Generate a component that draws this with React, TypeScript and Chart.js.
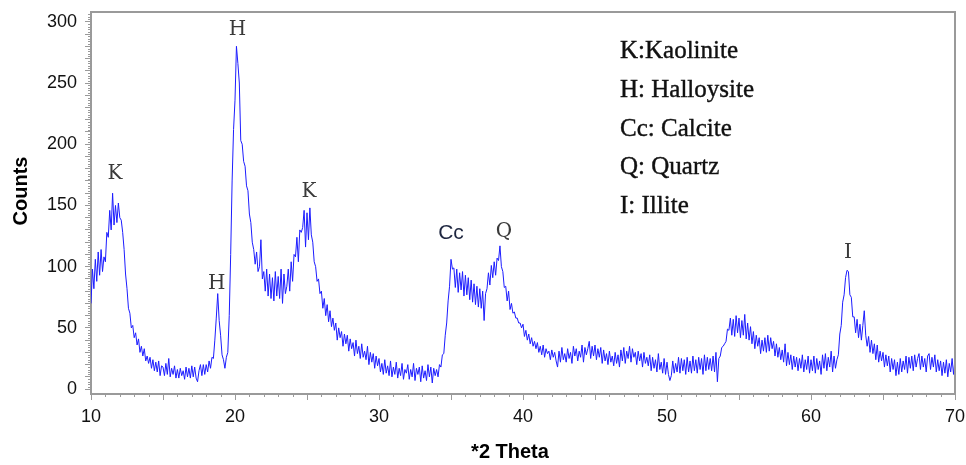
import { useEffect, useRef } from "react";
import { Chart, registerables } from "chart.js";

Chart.register(...registerables);

// ---- data (2-theta from 10 to 70 in steps of 0.1) ----
const thetaStart = 10;
const thetaStep = 0.1;

const counts10to20 = [
  70, 98, 82, 106, 88, 112, 93, 114, 96, 108,
  104, 128, 124, 146, 130, 160, 134, 150, 136, 152,
  140, 138, 128, 114, 94, 82, 66, 62, 50, 52,
  42, 46, 36, 41, 30, 35, 27, 33, 23, 27,
  21, 26, 17, 24, 15, 22, 14, 23, 11, 19,
  18, 11, 21, 12, 25, 10, 17, 12, 19, 9,
  16, 9, 17, 11, 15, 8, 18, 10, 17, 9,
  19, 10, 18, 9, 6, 15, 20, 11, 20, 12,
  20, 14, 23, 17, 26, 25, 40, 58, 78, 56,
  44, 28, 24, 17, 26, 30, 60, 110, 170, 212,
];
const counts20to30 = [
  236, 280, 266, 250, 203, 200, 186, 182, 166, 162,
  143, 136, 120, 114, 102, 112, 96, 100, 122, 90,
  96, 80, 98, 76, 94, 74, 91, 72, 96, 76,
  92, 74, 98, 70, 94, 78, 84, 98, 80, 104,
  88, 110, 108, 124, 104, 130, 128, 132, 146, 116,
  144, 122, 148, 126, 120, 104, 100, 88, 90, 78,
  80, 66, 74, 60, 69, 55, 64, 51, 58, 48,
  54, 40, 50, 42, 47, 35, 45, 37, 44, 31,
  41, 33, 38, 27, 40, 29, 35, 25, 37, 26,
  31, 24, 35, 20, 30, 22, 29, 17, 27, 19,
];
const counts30to40 = [
  25, 14, 21, 12, 24, 13, 19, 11, 23, 10,
  18, 12, 22, 9, 17, 11, 21, 8, 16, 13,
  20, 8, 16, 10, 21, 7, 17, 12, 18, 6,
  19, 9, 15, 7, 20, 10, 18, 5, 17, 11,
  16, 10, 20, 18, 28, 29, 44, 54, 72, 84,
  106, 98, 99, 83, 98, 79, 95, 81, 96, 76,
  93, 77, 91, 73, 89, 71, 86, 69, 84, 67,
  82, 66, 80, 56, 78, 82, 95, 85, 101, 91,
  104, 93, 107, 105, 117, 100, 96, 83, 84, 72,
  80, 65, 70, 62, 63, 58, 58, 54, 54, 50,
];
const counts40to50 = [
  53, 43, 48, 40, 45, 37, 42, 35, 39, 33,
  38, 30, 35, 28, 36, 26, 33, 29, 31, 24,
  32, 26, 30, 23, 18, 31, 22, 34, 24, 29,
  22, 33, 25, 30, 21, 35, 27, 33, 23, 31,
  26, 36, 22, 34, 28, 33, 39, 25, 35, 27,
  36, 24, 33, 26, 34, 21, 32, 23, 29, 20,
  31, 22, 27, 19, 30, 21, 28, 18, 32, 23,
  34, 21, 31, 25, 35, 22, 33, 26, 30, 20,
  31, 23, 29, 18, 30, 21, 26, 19, 28, 15,
  26, 17, 24, 14, 29, 16, 22, 13, 25, 12,
];
const counts50to60 = [
  22, 12, 7, 11, 23, 13, 21, 14, 26, 13,
  25, 15, 24, 12, 26, 14, 23, 13, 27, 15,
  24, 13, 26, 16, 25, 12, 28, 15, 26, 16,
  25, 15, 27, 14, 30, 6, 25, 27, 34, 35,
  37, 39, 49, 48, 58, 44, 57, 43, 60, 46,
  58, 42, 56, 44, 61, 41, 54, 40, 51, 37,
  47, 33, 44, 35, 42, 29, 40, 31, 42, 30,
  44, 31, 42, 33, 39, 27, 37, 26, 34, 24,
  32, 22, 37, 19, 30, 20, 28, 16, 27, 18,
  26, 15, 25, 17, 28, 14, 24, 16, 27, 13,
];
const counts60to70 = [
  24, 15, 27, 13, 25, 16, 23, 12, 28, 17,
  29, 15, 26, 18, 31, 14, 27, 17, 24, 28,
  45, 52, 71, 77, 91, 97, 96, 77, 75, 59,
  59, 46, 57, 42, 53, 40, 52, 64, 44, 35,
  43, 30, 40, 29, 37, 24, 36, 22, 31, 23,
  30, 18, 28, 19, 27, 14, 25, 16, 24, 11,
  22, 12, 25, 14, 23, 16, 27, 13, 26, 17,
  27, 15, 28, 18, 25, 29, 16, 27, 18, 25,
  14, 27, 29, 16, 26, 18, 28, 14, 24, 15,
  23, 11, 22, 13, 24, 10, 21, 14, 25, 12,
];
const countsAt70 = [24];

const xTickValues = [10, 20, 30, 40, 50, 60, 70];
const yTickValues = [0, 50, 100, 150, 200, 250, 300];

const xTitle = "*2 Theta";
const yTitle = "Counts";

// peak annotations: label text placed at (theta, count)
const peakLabels = [
  { text: "K", theta: 11.67, count: 172 },
  { text: "H", theta: 20.17, count: 289 },
  { text: "H", theta: 18.73, count: 82 },
  { text: "K", theta: 25.14, count: 157 },
  { text: "Cc", theta: 35.0, count: 123 },
  { text: "Q", theta: 38.68, count: 124 },
  { text: "I", theta: 62.57, count: 107 },
];

const mineralKey = [
  "K:Kaolinite",
  "H: Halloysite",
  "Cc: Calcite",
  "Q: Quartz",
  "I: Illite",
];

const FRAME = "#9a9a9a";
const SANS = "'Liberation Sans', Arial, sans-serif";

const decorPlugin = {
  id: "decor",
  afterDraw(chart: any) {
    const { ctx, chartArea: a } = chart;
    const x = chart.scales.x;
    const y = chart.scales.y;
    ctx.save();

    // top & right frame
    ctx.strokeStyle = FRAME;
    ctx.lineWidth = 2;
    ctx.beginPath();
    ctx.moveTo(a.left, a.top);
    ctx.lineTo(a.right, a.top);
    ctx.lineTo(a.right, a.bottom);
    ctx.stroke();

    // minor ticks
    ctx.lineWidth = 1;
    ctx.beginPath();
    for (let v = 10; v <= 70; v += 1) {
      if (v % 5 === 0) continue;
      const px = Math.round(x.getPixelForValue(v)) + 0.5;
      ctx.moveTo(px, a.bottom);
      ctx.lineTo(px, a.bottom + 3);
    }
    for (let v = 0; v <= 306; v += 2) {
      if (v % 10 === 0) continue;
      const py = Math.round(y.getPixelForValue(v)) + 0.5;
      ctx.moveTo(a.left - 3, py);
      ctx.lineTo(a.left, py);
    }
    ctx.stroke();

    // axis titles
    ctx.fillStyle = "#000";
    ctx.font = `bold 20px ${SANS}`;
    ctx.textAlign = "center";
    ctx.textBaseline = "alphabetic";
    ctx.fillText(xTitle, 510, 458);
    ctx.save();
    ctx.translate(26.5, 191);
    ctx.rotate(-Math.PI / 2);
    ctx.fillText(yTitle, 0, 0);
    ctx.restore();

    // peak labels
    for (const p of peakLabels) {
      const px = x.getPixelForValue(p.theta);
      const py = y.getPixelForValue(p.count);
      if (p.text === "Cc") {
        ctx.font = `21px ${SANS}`;
        ctx.fillStyle = "#1e2640";
      } else {
        ctx.font = "20px 'DejaVu Serif', serif";
        ctx.fillStyle = "#3a3a3a";
      }
      ctx.textAlign = "center";
      ctx.fillText(p.text, px, py);
    }

    // mineral key
    ctx.font = "25px 'Liberation Serif', 'Times New Roman', serif";
    ctx.fillStyle = "#111";
    ctx.strokeStyle = "#111";
    ctx.lineWidth = 0.4;
    ctx.textAlign = "left";
    mineralKey.forEach((t, i) => {
      ctx.fillText(t, 620, 58 + i * 38.8);
      ctx.strokeText(t, 620, 58 + i * 38.8);
    });

    ctx.restore();
  },
};

export default function App() {
  const ref = useRef<HTMLCanvasElement | null>(null);

  useEffect(() => {
    if (!ref.current) return;
    const counts = [
      ...counts10to20,
      ...counts20to30,
      ...counts30to40,
      ...counts40to50,
      ...counts50to60,
      ...counts60to70,
      ...countsAt70,
    ];
    const points = counts.map((c, i) => ({
      x: Math.round((thetaStart + i * thetaStep) * 10) / 10,
      y: c,
    }));

    const chart = new Chart(ref.current, {
      type: "line",
      data: {
        datasets: [
          {
            data: points,
            borderColor: "#1c1cff",
            borderWidth: 1,
            pointRadius: 0,
            fill: false,
            tension: 0,
          },
        ],
      },
      options: {
        animation: false,
        responsive: true,
        maintainAspectRatio: false,
        events: [],
        layout: { padding: { left: 0, top: 12, right: 11, bottom: 0 } },
        plugins: {
          legend: { display: false },
          tooltip: { enabled: false },
        },
        scales: {
          x: {
            type: "linear",
            min: 10,
            max: 70,
            afterFit: (s: any) => {
              s.height = 71;
              s.paddingLeft = 0;
              s.paddingRight = 0;
            },
            border: { display: true, color: FRAME, width: 2 },
            grid: {
              drawOnChartArea: false,
              drawTicks: true,
              tickLength: 6,
              tickColor: FRAME,
              color: FRAME,
            },
            ticks: {
              stepSize: 5,
              autoSkip: false,
              maxRotation: 0,
              padding: 6,
              color: "#111",
              font: { family: SANS, size: 18 },
              callback: (v: any) => (xTickValues.includes(v) ? String(v) : ""),
            },
          },
          y: {
            type: "linear",
            min: -4,
            max: 308,
            afterFit: (s: any) => {
              s.width = 91;
              s.paddingTop = 0;
              s.paddingBottom = 0;
            },
            border: { display: true, color: FRAME, width: 2 },
            grid: {
              drawOnChartArea: false,
              drawTicks: true,
              tickLength: 6,
              tickColor: FRAME,
              color: FRAME,
            },
            ticks: {
              stepSize: 10,
              includeBounds: false,
              autoSkip: false,
              padding: 8,
              color: "#111",
              font: { family: SANS, size: 18 },
              callback: (v: any) => (yTickValues.includes(v) ? String(v) : ""),
            },
          },
        },
      },
      plugins: [decorPlugin],
    });
    return () => chart.destroy();
  }, []);

  return (
    <div
      style={{
        position: "absolute",
        left: 0,
        top: 0,
        width: 966,
        height: 465,
        background: "#fff",
      }}
    >
      <canvas ref={ref} style={{ display: "block" }} />
    </div>
  );
}
